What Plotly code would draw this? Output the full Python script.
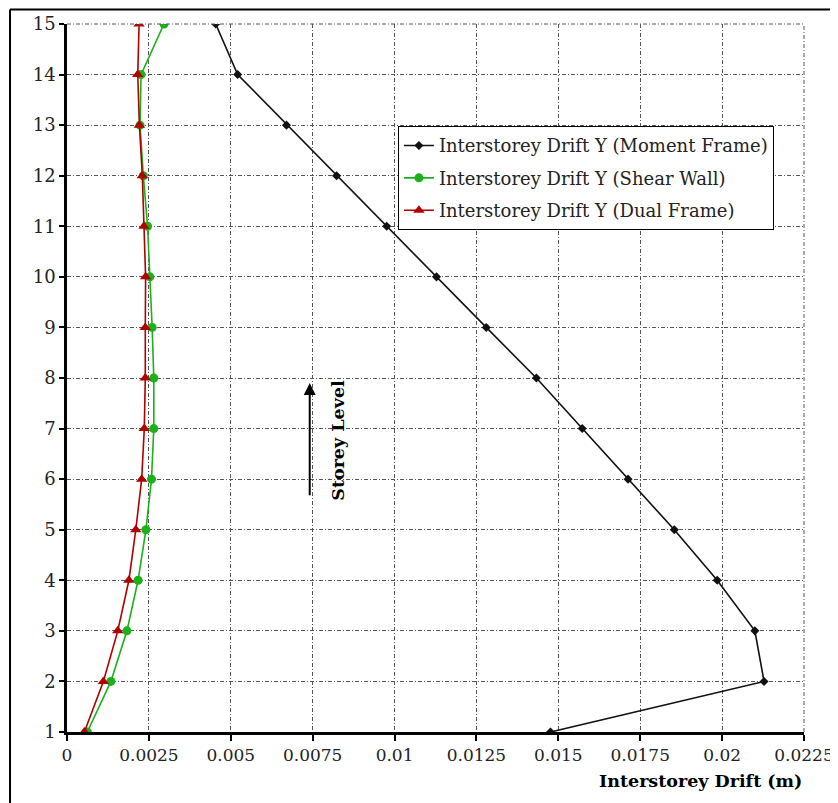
import plotly.graph_objects as go

storeys = list(range(1, 16))
moment_frame = [0.01476, 0.02128, 0.0210, 0.01985, 0.01854, 0.01713, 0.01573, 0.01433,
                0.0128, 0.01128, 0.00976, 0.00823, 0.0067, 0.00521, 0.00454]
shear_wall = [0.00062, 0.00134, 0.00183, 0.00217, 0.00241, 0.00258, 0.00265, 0.00265,
              0.0026, 0.00253, 0.00246, 0.00233, 0.00223, 0.00226, 0.00296]
dual_frame = [0.00053, 0.00111, 0.00155, 0.00189, 0.0021, 0.00228, 0.00236, 0.00239,
              0.00239, 0.0024, 0.00235, 0.0023, 0.00221, 0.00216, 0.0022]
x_tickvals = [0, 0.0025, 0.005, 0.0075, 0.01, 0.0125, 0.015, 0.0175, 0.02, 0.0225]
x_ticktext = ["0", "0.0025", "0.005", "0.0075", "0.01", "0.0125", "0.015", "0.0175", "0.02", "0.0225"]

FONT = "DejaVu Serif"
GRID_DASH = "4px,2px,1px,2px"

fig = go.Figure()
fig.add_trace(go.Scatter(x=moment_frame, y=storeys, mode="lines+markers",
                         name="Interstorey Drift Y (Moment Frame)", legendgroup="a",
                         line=dict(color="#111111", width=1.6),
                         marker=dict(symbol="diamond", size=7, color="#111111")))
fig.add_trace(go.Scatter(x=shear_wall, y=storeys, mode="lines+markers",
                         name="Interstorey Drift Y (Shear Wall)", legendgroup="b",
                         line=dict(color="#19b219", width=1.6),
                         marker=dict(symbol="circle", size=9, color="#19b219")))
fig.add_trace(go.Scatter(x=dual_frame, y=storeys, mode="lines+markers",
                         name="Interstorey Drift Y (Dual Frame)", legendgroup="c",
                         line=dict(color="#b00000", width=1.6),
                         marker=dict(symbol="triangle-up", size=10, color="#b00000")))

fig.update_xaxes(range=[0, 0.0225], tickvals=x_tickvals, ticktext=x_ticktext,
                 showgrid=True, gridcolor="#555555", griddash=GRID_DASH, gridwidth=1,
                 zeroline=False, showline=True, linecolor="black", linewidth=2.5,
                 ticks="outside", ticklen=6, tickwidth=2, tickcolor="black",
                 tickfont=dict(family=FONT, size=17, color="#222222"), automargin=False)
fig.update_yaxes(range=[1, 15], dtick=1, tick0=1,
                 showgrid=True, gridcolor="#555555", griddash=GRID_DASH, gridwidth=1,
                 zeroline=False, showline=True, linecolor="black", linewidth=2.5,
                 ticks="outside", ticklen=5, tickwidth=2, tickcolor="black",
                 tickfont=dict(family=FONT, size=18, color="#222222"), automargin=False)

# top and right dash-dot border lines of the grid
fig.add_shape(type="line", xref="paper", yref="paper", x0=0, x1=1, y0=1, y1=1,
              line=dict(color="#555555", width=1, dash=GRID_DASH))
fig.add_shape(type="line", xref="paper", yref="paper", x0=1, x1=1, y0=0, y1=1,
              line=dict(color="#555555", width=1, dash=GRID_DASH))

# outer frame (left and top)
fig.add_shape(type="line", xref="paper", yref="paper", x0=-0.0773, x1=-0.0773, y0=-0.2, y1=1.0205,
              line=dict(color="black", width=2))
fig.add_shape(type="line", xref="paper", yref="paper", x0=-0.0773, x1=1.2, y0=1.0205, y1=1.0205,
              line=dict(color="black", width=2))

# Storey Level arrow and label
fig.add_annotation(x=0.00741, y=7.9, ax=0.00741, ay=5.65, xref="x", yref="y",
                   axref="x", ayref="y", showarrow=True, arrowhead=2, arrowsize=1.2,
                   arrowwidth=2, arrowcolor="black", text="")
fig.add_annotation(x=0.00829, y=6.77, xref="x", yref="y", text="<b>Storey Level</b>",
                   textangle=-90, showarrow=False,
                   font=dict(family=FONT, size=17.5, color="black"))

# x-axis title
fig.add_annotation(x=1, y=-0.069, xref="paper", yref="paper", xanchor="right", yanchor="middle",
                   text="<b>Interstorey Drift (m)</b>", showarrow=False,
                   font=dict(family=FONT, size=17.5, color="black"))

# the page body adds an 8px offset; margins compensate so the plot area lands at 67..804 x 24..732
fig.update_layout(
    width=830, height=795,
    margin=dict(l=59, r=34, t=16, b=71),
    paper_bgcolor="white", plot_bgcolor="white",
    showlegend=True,
    legend=dict(x=0.449, y=0.8556, xanchor="left", yanchor="top",
                bgcolor="white", bordercolor="black", borderwidth=1,
                font=dict(family=FONT, size=18, color="#222222"),
                tracegroupgap=6, itemwidth=30),
    font=dict(family=FONT),
)

fig.write_html("out.html")
